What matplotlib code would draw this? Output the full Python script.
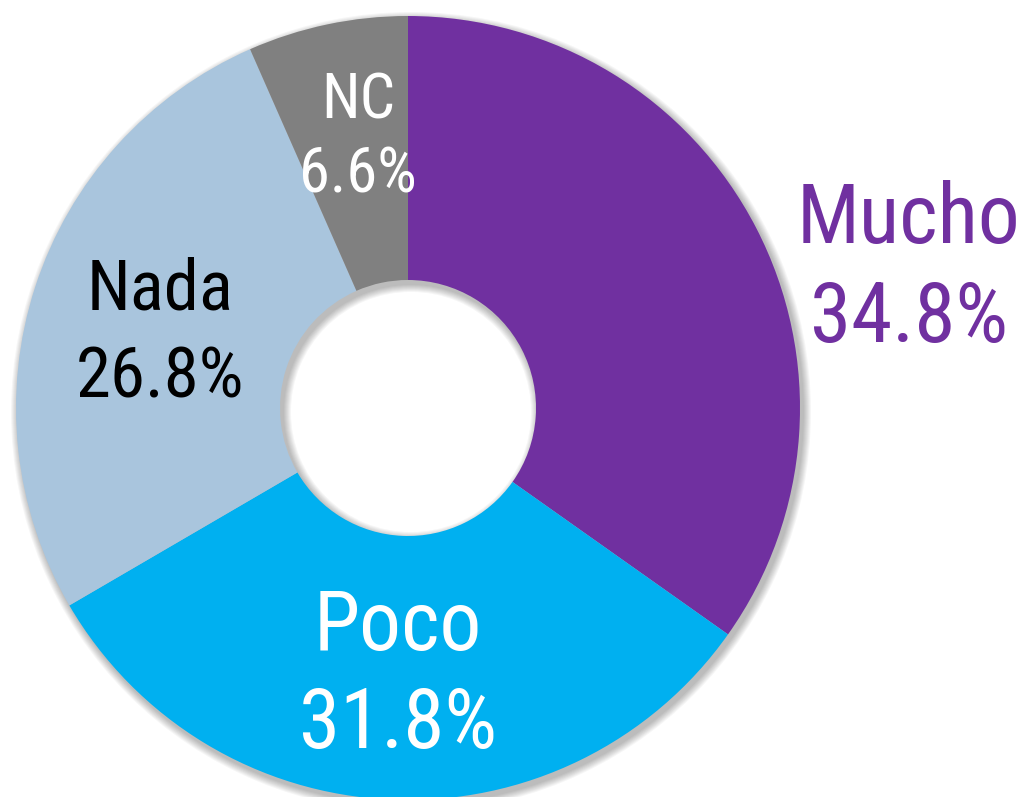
import matplotlib
matplotlib.use("Agg")
import matplotlib.pyplot as plt
from matplotlib.patches import Wedge

categories = ["Mucho", "Poco", "Nada", "NC"]
values = [34.8, 31.8, 26.8, 6.6]
colors = ["#7030A0", "#00B0F0", "#A9C5DD", "#808080"]
text_colors = ["#7030A0", "white", "black", "white"]

W, H = 1020, 797
fig = plt.figure(figsize=(W / 100, H / 100), dpi=100)
ax = fig.add_axes([0, 0, 1, 1])

fam = ["Roboto Condensed", "DejaVu Sans"]

cx, cy = 408, H - 408
R = 392
r_in = 128
width = R - r_in

# soft shadow
for i in range(8):
    ax.add_patch(Wedge((cx + 3, cy - 4), R + 1 + i, 0, 360, width=width + 2 * i + 2,
                       facecolor="black", alpha=0.035, linewidth=0, zorder=1))

ax.pie(values, colors=colors, startangle=90, counterclock=False, center=(cx, cy),
       radius=R, wedgeprops=dict(width=width, linewidth=0), frame=True)
for p in ax.patches[-len(values):]:
    p.set_zorder(2)

ax.set_xlim(0, W)
ax.set_ylim(0, H)
ax.set_aspect("equal")
ax.axis("off")

# label positions (pixel coords: x center, baselines of the two lines), font size
label_pos = [
    (909, 243, 342, 60),
    (398, 650, 748, 60),
    (160, 310, 398, 51),
    (358, 118, 192, 45),
]
for cat, val, tc, (x, b1, b2, fs) in zip(categories, values, text_colors, label_pos):
    ax.text(x, H - b1, cat, ha="center", va="baseline", fontsize=fs, color=tc,
            family=fam, zorder=5)
    ax.text(x, H - b2, f"{val:.1f}%", ha="center", va="baseline", fontsize=fs, color=tc,
            family=fam, zorder=5)

fig.savefig("out.png", dpi=100)
